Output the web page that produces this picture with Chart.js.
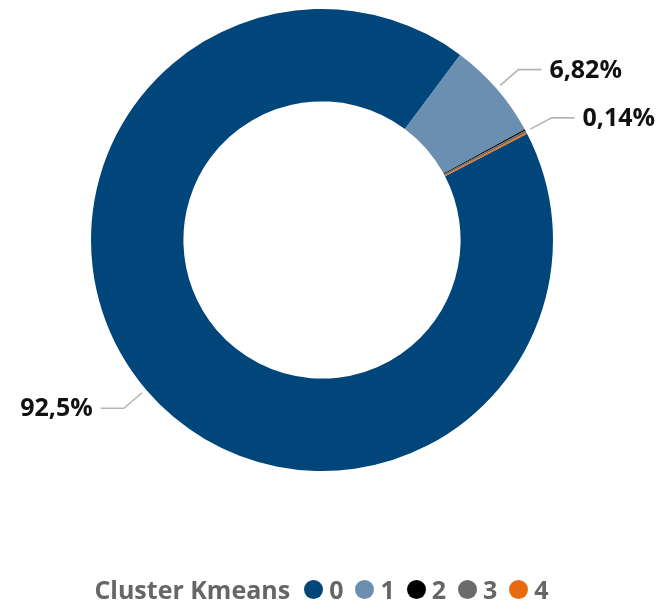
<!DOCTYPE html>
<html>
<head>
<meta charset="utf-8">
<script src="https://cdn.jsdelivr.net/npm/chart.js@4/dist/chart.umd.min.js"></script>
<style>
  html, body { margin: 0; padding: 0; background: #fff; }
  #wrap { position: relative; width: 659px; height: 604px; }
  #legenda {
    position: absolute; left: 0; top: 572px; width: 659px; height: 34px;
    display: flex; justify-content: center; align-items: center;
    font-family: "Open Sans", sans-serif; font-weight: bold;
    font-size: 25px; color: #666; padding-right: 16px; box-sizing: border-box;
  }
  #legenda .titulo { margin-right: 14px; }
  #legenda .item { display: flex; align-items: center; margin-right: 12px; }
  #legenda .item:last-child { margin-right: 0; }
  #legenda .bola { width: 19px; height: 19px; border-radius: 50%; margin-right: 6px; }
</style>
</head>
<body>
<div id="wrap">
  <canvas id="grafico" width="659" height="604"></canvas>
  <div id="legenda"></div>
</div>
<script>
const clusters = ['0', '1', '2', '3', '4'];
const percentuais = [92.5, 6.82, 0.1, 0.14, 0.1];
const rotulos = ['92,5%', '6,82%', '', '0,14%', ''];
const cores = ['#01467a', '#6a8fb0', '#000000', '#6b6b6b', '#e8690e'];

/* rotulos com linha guia */
const rotulosPlugin = {
    id: 'rotulos',
    afterDatasetsDraw(chart) {
        const ctx = chart.ctx;
        const arcs = chart.getDatasetMeta(0).data;
        ctx.save();
        ctx.font = 'bold 25px "Open Sans", sans-serif';
        ctx.textBaseline = 'middle';
        arcs.forEach((arc, i) => {
            if (!rotulos[i]) return;
            const meio = (arc.startAngle + arc.endAngle) / 2;
            const cos = Math.cos(meio), sin = Math.sin(meio);
            const r0 = arc.outerRadius + 5;
            const r1 = r0 + 24;
            const x0 = arc.x + cos * r0, y0 = arc.y + sin * r0;
            const x1 = arc.x + cos * r1, y1 = arc.y + sin * r1;
            const dir = cos >= 0 ? 1 : -1;
            const x2 = x1 + dir * 23;
            ctx.strokeStyle = '#b5b5b5';
            ctx.lineWidth = 1.6;
            ctx.beginPath();
            ctx.moveTo(x0, y0);
            ctx.lineTo(x1, y1);
            ctx.lineTo(x2, y1);
            ctx.stroke();
            ctx.fillStyle = '#111';
            ctx.textAlign = dir > 0 ? 'left' : 'right';
            ctx.fillText(rotulos[i], x2 + dir * 8, y1 + 1);
        });
        ctx.restore();
    }
};

new Chart(document.getElementById('grafico'), {
    type: 'doughnut',
    data: {
        labels: clusters,
        datasets: [{
            data: percentuais,
            backgroundColor: cores,
            borderWidth: 0
        }]
    },
    options: {
        responsive: false,
        animation: false,
        cutout: '60%',
        rotation: 62.6,
        layout: { padding: { top: 9, bottom: 133, left: 0, right: 15 } },
        plugins: {
            legend: { display: false },
            tooltip: { enabled: false }
        }
    },
    plugins: [rotulosPlugin]
});

/* LEGENDA */
const legenda = document.getElementById('legenda');
legenda.innerHTML = '<span class="titulo">Cluster Kmeans</span>' +
    clusters.map((c, i) =>
        `<span class="item"><span class="bola" style="background:${cores[i]}"></span>${c}</span>`
    ).join('');
</script>
</body>
</html>
